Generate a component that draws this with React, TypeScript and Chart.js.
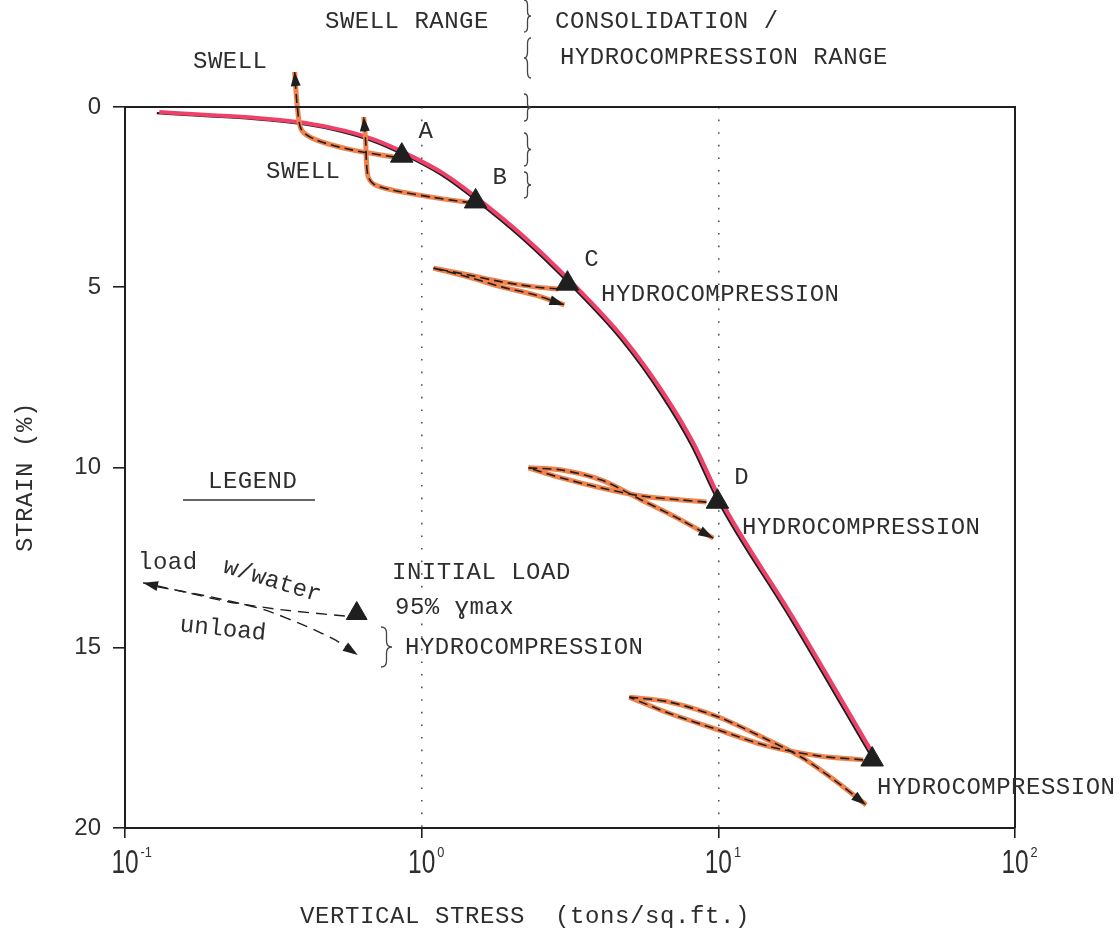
import React, { useEffect, useRef } from 'react';
import { Chart, registerables } from 'chart.js';

Chart.register(...registerables);

// ---------- axes ----------
const X_TICKS = [0.1, 1, 10, 100];
const X_TICK_EXP = ['-1', '0', '1', '2'];
const X_GRID = [1, 10];
const Y_TICKS = [0, 5, 10, 15, 20];

// ---------- main consolidation curve ----------
const MAIN_X = [0.128, 0.182, 0.268, 0.394, 0.538, 0.679, 0.857, 1.167, 1.52, 2.17, 3.1, 4.71, 6.43, 8.11, 9.93, 17.6, 33.0];
const MAIN_Y = [0.17, 0.25, 0.33, 0.47, 0.69, 0.94, 1.3, 1.89, 2.58, 3.63, 4.85, 6.46, 7.99, 9.38, 10.9, 14.23, 18.06];

// ---------- test points ----------
const POINT_X = [0.857, 1.52, 3.1, 9.93, 33.0];
const POINT_Y = [1.35, 2.62, 4.9, 10.95, 18.1];
const POINT_LABELS = ['A', 'B', 'C', 'D', ''];

// ---------- swell paths ----------
const SWELL1_X = [0.811, 0.581, 0.443, 0.394, 0.382, 0.373];
const SWELL1_Y = [1.39, 1.19, 0.92, 0.64, 0.08, -0.97];
const SWELL2_X = [1.47, 1.08, 0.792, 0.689, 0.658, 0.647, 0.638];
const SWELL2_Y = [2.66, 2.5, 2.3, 2.14, 1.89, 0.92, 0.28];

// ---------- hydrocompression loops ----------
const LOOP_C_UNLOAD_X = [2.89, 2.4, 1.86, 1.44, 1.097];
const LOOP_C_UNLOAD_Y = [5.05, 4.99, 4.85, 4.66, 4.47];
const LOOP_C_LOAD_X = [1.097, 1.44, 1.86, 2.4, 3.03];
const LOOP_C_LOAD_Y = [4.47, 4.72, 4.99, 5.21, 5.49];

const LOOP_D_UNLOAD_X = [9.12, 7.5, 5.5, 4.04, 2.96, 2.29];
const LOOP_D_UNLOAD_Y = [10.96, 10.9, 10.79, 10.57, 10.29, 10.01];
const LOOP_D_LOAD_X = [2.29, 2.96, 4.04, 5.5, 7.5, 9.62];
const LOOP_D_LOAD_Y = [10.01, 10.07, 10.35, 10.9, 11.46, 11.96];

const LOOP_E_UNLOAD_X = [30.8, 21.7, 14.7, 10.0, 6.79, 5.01];
const LOOP_E_UNLOAD_Y = [18.11, 18.0, 17.73, 17.28, 16.81, 16.37];
const LOOP_E_LOAD_X = [5.01, 6.79, 10.0, 14.7, 19.0, 24.6, 31.5];
const LOOP_E_LOAD_Y = [16.37, 16.5, 16.92, 17.56, 18.03, 18.67, 19.36];

// ---------- legend sketch ----------
const LEG_TRI_X = [0.604];
const LEG_TRI_Y = [14.05];
const LEG_UNLOAD_X = [0.551, 0.34, 0.224, 0.149, 0.115];
const LEG_UNLOAD_Y = [14.12, 13.95, 13.73, 13.4, 13.2];
const LEG_LOAD_X = [0.129, 0.195, 0.296, 0.413, 0.513, 0.609];
const LEG_LOAD_Y = [13.31, 13.59, 13.95, 14.42, 14.79, 15.2];

// ---------- styles ----------
const MONO = '"Liberation Mono", "DejaVu Sans Mono", monospace';
const SANS = '"Liberation Sans", Arial, sans-serif';
const INK = '#1f1f1f';
const TEXT = '#2e2e2e';
const PINK = '#ee4068';
const ORANGE = '#f2824c';

const pts = (xs: number[], ys: number[]) => xs.map((x, i) => ({ x, y: ys[i] }));

function drawText(ctx: CanvasRenderingContext2D, text: string, x: number, y: number, size: number,
  family = MONO, hscale = 1, angle = 0, align: CanvasTextAlign = 'left', spacing = 0.5) {
  ctx.save();
  ctx.translate(x, y);
  if (angle) ctx.rotate(angle);
  ctx.scale(hscale, 1);
  ctx.font = `${size}px ${family}`;
  try { (ctx as any).letterSpacing = `${spacing}px`; } catch (e) { /* ignore */ }
  ctx.fillStyle = TEXT;
  ctx.textAlign = align;
  ctx.textBaseline = 'middle';
  ctx.fillText(text, 0, 0);
  ctx.restore();
}

function brace(ctx: CanvasRenderingContext2D, x: number, y0: number, y1: number, dir: number, w: number) {
  const ym = (y0 + y1) / 2;
  const h = ym - y0;
  const xm = x + dir * w * 0.5;
  ctx.beginPath();
  ctx.moveTo(x, y0);
  ctx.quadraticCurveTo(xm, y0, xm, y0 + h * 0.3);
  ctx.lineTo(xm, ym - h * 0.3);
  ctx.quadraticCurveTo(xm, ym, x + dir * w, ym);
  ctx.quadraticCurveTo(xm, ym, xm, ym + h * 0.3);
  ctx.lineTo(xm, y1 - h * 0.3);
  ctx.quadraticCurveTo(xm, y1, x, y1);
  ctx.stroke();
}

const shiftPlugin = {
  id: 'shiftDataset',
  beforeDatasetDraw(chart: any, args: any) {
    const ds = chart.data.datasets[args.index];
    if (ds.shiftX || ds.shiftY) {
      chart.ctx.save();
      chart.ctx.translate(ds.shiftX || 0, ds.shiftY || 0);
    }
  },
  afterDatasetDraw(chart: any, args: any) {
    const ds = chart.data.datasets[args.index];
    if (ds.shiftX || ds.shiftY) chart.ctx.restore();
  },
};

const arrowPlugin = {
  id: 'arrowHeads',
  afterDatasetsDraw(chart: any) {
    const ctx = chart.ctx as CanvasRenderingContext2D;
    chart.data.datasets.forEach((ds: any, i: number) => {
      if (!ds.arrowEnd) return;
      const meta = chart.getDatasetMeta(i);
      const p = meta.data;
      const n = p.length;
      if (n < 2) return;
      const a = p[n - 2];
      const b = p[n - 1];
      const ang = Math.atan2(b.y - a.y, b.x - a.x);
      const L = ds.arrowLen || 15;
      const W = ds.arrowHalf || 5;
      ctx.save();
      ctx.translate(b.x, b.y);
      ctx.rotate(ang);
      ctx.beginPath();
      ctx.moveTo(0, 0);
      ctx.lineTo(-L, -W);
      ctx.lineTo(-L, W);
      ctx.closePath();
      ctx.fillStyle = INK;
      ctx.fill();
      ctx.restore();
    });
  },
};

const annotationPlugin = {
  id: 'annotations',
  afterDraw(chart: any) {
    const ctx = chart.ctx as CanvasRenderingContext2D;
    const area = chart.chartArea;
    const xs = chart.scales.x;
    const ys = chart.scales.y;

    // frame top + right
    ctx.save();
    ctx.strokeStyle = INK;
    ctx.lineWidth = 2;
    ctx.beginPath();
    ctx.moveTo(area.left, area.top);
    ctx.lineTo(area.right, area.top);
    ctx.lineTo(area.right, area.bottom);
    ctx.stroke();
    ctx.restore();

    // x tick labels 10^n
    X_TICKS.forEach((v, i) => {
      const px = xs.getPixelForValue(v);
      ctx.save();
      ctx.fillStyle = TEXT;
      ctx.textBaseline = 'alphabetic';
      ctx.textAlign = 'center';
      ctx.translate(px, area.bottom + 45);
      ctx.save();
      ctx.scale(0.72, 1);
      ctx.font = `34px ${SANS}`;
      ctx.fillText('10', 0, 0);
      const w = ctx.measureText('10').width * 0.72;
      ctx.restore();
      ctx.scale(0.85, 1);
      ctx.font = `15px ${SANS}`;
      ctx.textAlign = 'left';
      ctx.fillText(X_TICK_EXP[i], (w / 2 + 2) / 0.85, -16);
      ctx.restore();
    });

    // axis titles
    drawText(ctx, 'STRAIN (%)', 26, 477, 24, MONO, 1, -Math.PI / 2, 'center', 0.6);
    drawText(ctx, 'VERTICAL STRESS  (tons/sq.ft.)', 300, 917, 24, MONO, 1, 0, 'left', 0.6);

    // top annotations
    drawText(ctx, 'SWELL RANGE', 325, 22, 24);
    drawText(ctx, 'CONSOLIDATION /', 555, 22, 24);
    drawText(ctx, 'HYDROCOMPRESSION RANGE', 560, 58, 24);
    drawText(ctx, 'SWELL', 193, 62, 24);
    drawText(ctx, 'SWELL', 266, 172, 24);

    // braces separating ranges
    ctx.save();
    ctx.strokeStyle = '#444';
    ctx.lineWidth = 1.3;
    brace(ctx, 524, 0, 32, 1, 7);
    brace(ctx, 531, 38, 78, -1, 7);
    brace(ctx, 524, 94, 121, 1, 7);
    brace(ctx, 524, 133, 166, 1, 7);
    brace(ctx, 524, 172, 198, 1, 7);
    brace(ctx, 381, 627, 667, 1, 11);
    ctx.restore();

    // point labels
    POINT_X.forEach((v, i) => {
      if (!POINT_LABELS[i]) return;
      const px = xs.getPixelForValue(v);
      const py = ys.getPixelForValue(POINT_Y[i]);
      drawText(ctx, POINT_LABELS[i], px + 24, py - 24, 24, MONO, 1, 0, 'center', 0);
    });

    drawText(ctx, 'HYDROCOMPRESSION', 601, 295, 24);
    drawText(ctx, 'HYDROCOMPRESSION', 742, 528, 24);
    drawText(ctx, 'HYDROCOMPRESSION', 877, 788, 24);

    // legend
    drawText(ctx, 'LEGEND', 208, 482, 24);
    ctx.save();
    ctx.strokeStyle = '#333';
    ctx.lineWidth = 1.6;
    ctx.beginPath();
    ctx.moveTo(183, 500);
    ctx.lineTo(315, 500);
    ctx.stroke();
    ctx.restore();
    drawText(ctx, 'INITIAL LOAD', 392, 573, 24);
    drawText(ctx, '95% \u0263max', 395, 608, 24);
    drawText(ctx, 'HYDROCOMPRESSION', 405, 648, 24);
    drawText(ctx, 'load', 138, 563, 24);
    drawText(ctx, 'w/water', 224, 566, 24, MONO, 1, 0.3, 'left', 0);
    drawText(ctx, 'unload', 180, 625, 24, MONO, 1, 0.1, 'left', 0);
  },
};

export default function App() {
  const ref = useRef<HTMLCanvasElement | null>(null);

  useEffect(() => {
    if (!ref.current) return;
    const orange = (data: any, order = 8) => ({
      type: 'line', data, borderColor: ORANGE, borderWidth: 5, pointRadius: 0,
      tension: 0.3, fill: false, clip: false, order,
    });
    const dashed = (data: any, arrow: boolean, extra: any = {}) => ({
      type: 'line', data, borderColor: INK, borderWidth: 1.6, borderDash: [9, 5], pointRadius: 0,
      tension: 0.3, fill: false, clip: false, order: 6, arrowEnd: arrow, ...extra,
    });

    const datasets: any[] = [
      {
        type: 'line', data: pts(POINT_X, POINT_Y), showLine: false, pointStyle: 'triangle',
        pointRadius: 13, pointBackgroundColor: INK, pointBorderColor: INK, pointBorderWidth: 1,
        clip: false, order: 0,
      },
      {
        type: 'line', data: pts(LEG_TRI_X, LEG_TRI_Y), showLine: false, pointStyle: 'triangle',
        pointRadius: 12, pointBackgroundColor: INK, pointBorderColor: INK, pointBorderWidth: 1,
        clip: false, order: 0,
      },
      {
        type: 'line', data: pts(MAIN_X, MAIN_Y), borderColor: INK, borderWidth: 2.2, pointRadius: 0,
        cubicInterpolationMode: 'monotone', fill: false, clip: false, order: 10,
      },
      {
        type: 'line', data: pts(MAIN_X, MAIN_Y), borderColor: PINK, borderWidth: 4, pointRadius: 0,
        cubicInterpolationMode: 'monotone', fill: false, clip: false, order: 9, shiftX: 2.5, shiftY: -1.2,
      },
      orange(pts(SWELL1_X, SWELL1_Y)),
      dashed(pts(SWELL1_X, SWELL1_Y), true, { arrowLen: 14, arrowHalf: 5 }),
      orange(pts(SWELL2_X, SWELL2_Y)),
      dashed(pts(SWELL2_X, SWELL2_Y), true, { arrowLen: 14, arrowHalf: 5 }),
      orange(pts(LOOP_C_UNLOAD_X, LOOP_C_UNLOAD_Y)),
      dashed(pts(LOOP_C_UNLOAD_X, LOOP_C_UNLOAD_Y), false),
      orange(pts(LOOP_C_LOAD_X, LOOP_C_LOAD_Y)),
      dashed(pts(LOOP_C_LOAD_X, LOOP_C_LOAD_Y), true),
      orange(pts(LOOP_D_UNLOAD_X, LOOP_D_UNLOAD_Y)),
      dashed(pts(LOOP_D_UNLOAD_X, LOOP_D_UNLOAD_Y), false),
      orange(pts(LOOP_D_LOAD_X, LOOP_D_LOAD_Y)),
      dashed(pts(LOOP_D_LOAD_X, LOOP_D_LOAD_Y), true),
      orange(pts(LOOP_E_UNLOAD_X, LOOP_E_UNLOAD_Y)),
      dashed(pts(LOOP_E_UNLOAD_X, LOOP_E_UNLOAD_Y), false),
      orange(pts(LOOP_E_LOAD_X, LOOP_E_LOAD_Y)),
      dashed(pts(LOOP_E_LOAD_X, LOOP_E_LOAD_Y), true),
      dashed(pts(LEG_UNLOAD_X, LEG_UNLOAD_Y), true, { borderDash: [11, 7], borderWidth: 1.4, tension: 0.2 }),
      dashed(pts(LEG_LOAD_X, LEG_LOAD_Y), true, { borderDash: [11, 7], borderWidth: 1.4, tension: 0.2 }),
    ];

    const chart = new Chart(ref.current, {
      type: 'line',
      data: { datasets },
      plugins: [shiftPlugin, arrowPlugin, annotationPlugin],
      options: {
        responsive: false,
        animation: false,
        devicePixelRatio: 1,
        layout: { padding: { top: 107, right: 105, left: 0, bottom: 0 } },
        plugins: { legend: { display: false }, tooltip: { enabled: false }, title: { display: false } },
        scales: {
          x: {
            type: 'logarithmic',
            min: 0.1,
            max: 100,
            afterBuildTicks: (s: any) => { s.ticks = X_TICKS.map((v) => ({ value: v })); },
            afterFit: (s: any) => { s.height = 103; },
            ticks: { display: false },
            grid: {
              drawOnChartArea: true,
              drawTicks: true,
              tickLength: 10,
              lineWidth: 1.6,
              color: (c: any) => (c.tick && X_GRID.includes(c.tick.value) ? '#555' : 'rgba(0,0,0,0)'),
              tickColor: INK,
              tickWidth: 1.6,
            },
            border: { display: true, color: INK, width: 2, dash: [1.6, 11] },
          },
          y: {
            type: 'linear',
            reverse: true,
            min: 0,
            max: 20,
            afterBuildTicks: (s: any) => { s.ticks = Y_TICKS.map((v) => ({ value: v })); },
            afterFit: (s: any) => { s.width = 125; },
            ticks: { font: { family: SANS, size: 24 }, color: TEXT, padding: 12 },
            grid: { drawOnChartArea: false, drawTicks: true, tickLength: 12, color: INK, lineWidth: 1.6 },
            border: { display: true, color: INK, width: 2 },
          },
        },
      } as any,
    } as any);
    return () => chart.destroy();
  }, []);

  return (
    <div style={{ position: 'fixed', left: 0, top: 0, width: 1120, height: 931, background: '#fff' }}>
      <canvas ref={ref} width={1120} height={931} style={{ display: 'block', width: 1120, height: 931 }} />
    </div>
  );
}
